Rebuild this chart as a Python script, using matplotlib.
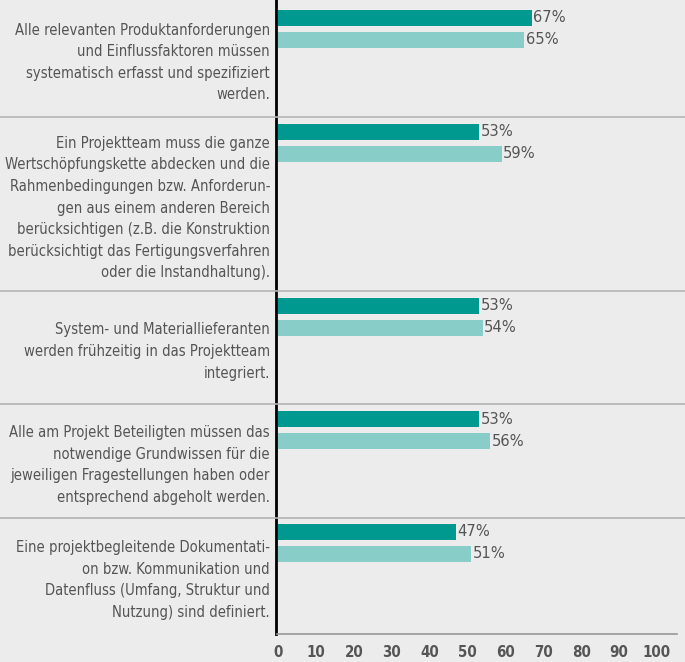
import matplotlib
matplotlib.use("Agg")
import matplotlib.pyplot as plt
from matplotlib.lines import Line2D
import matplotlib.transforms as mtransforms
from matplotlib import font_manager

categories = [
    "Alle relevanten Produktanforderungen\nund Einflussfaktoren müssen\nsystematisch erfasst und spezifiziert\nwerden.",
    "Ein Projektteam muss die ganze\nWertschöpfungskette abdecken und die\nRahmenbedingungen bzw. Anforderun-\ngen aus einem anderen Bereich\nberücksichtigen (z.B. die Konstruktion\nberücksichtigt das Fertigungsverfahren\noder die Instandhaltung).",
    "System- und Materiallieferanten\nwerden frühzeitig in das Projektteam\nintegriert.",
    "Alle am Projekt Beteiligten müssen das\nnotwendige Grundwissen für die\njeweiligen Fragestellungen haben oder\nentsprechend abgeholt werden.",
    "Eine projektbegleitende Dokumentati-\non bzw. Kommunikation und\nDatenfluss (Umfang, Struktur und\nNutzung) sind definiert.",
]
series_dark = [67, 53, 53, 53, 47]
series_light = [65, 59, 54, 56, 51]
xticks = [0, 10, 20, 30, 40, 50, 60, 70, 80, 90, 100]

# layout (pixel rows)
W, H = 685, 662
group_edges = [0, 117, 291, 404, 518, 634]
dark_top = [10, 124, 298, 411, 524]
bar_h = 16
gap = 6

fonts = font_manager.findSystemFonts()
def find_font(keys_any, must=(), exclude=()):
    for f in sorted(fonts):
        n = f.lower().replace('-', '').replace('_', '')
        if any(k in n for k in keys_any) and all(m in n for m in must) and not any(e in n for e in exclude):
            return f
    return None

cond = find_font(['dejavusanscondensed.ttf'])
if cond is None:
    cond = find_font(['narrow', 'condensed'], exclude=('bold', 'oblique', 'italic'))
cond_b = find_font(['dejavusanscondensedbold.ttf'])
if cond_b is None:
    cond_b = find_font(['narrow', 'condensed'], must=('bold',), exclude=('oblique', 'italic'))

def fprop(path, size, fallback_weight='normal'):
    if path:
        return font_manager.FontProperties(fname=path, size=size)
    return font_manager.FontProperties(family='DejaVu Sans', size=size * 0.9, weight=fallback_weight)

fp = fprop(cond, 10.6)
fp_val = fprop(cond, 11.8)
fp_tick = fprop(cond_b, 10.8, 'bold')

bg = '#ececec'
c_dark = '#009990'
c_light = '#88cdc8'
txt = '#555555'

fig = plt.figure(figsize=(W / 100, H / 100), dpi=100, facecolor=bg)
ax = fig.add_axes([278 / W, (H - 634) / H, (657 - 278) / W, 634 / H])
ax.set_facecolor(bg)
ax.set_xlim(0, 100)
ax.set_ylim(634, 0)

ydark = [t + bar_h / 2 for t in dark_top]
ylight = [t + bar_h + gap + bar_h / 2 for t in dark_top]
ax.barh(ydark, series_dark, height=bar_h, color=c_dark, zorder=3)
ax.barh(ylight, series_light, height=bar_h, color=c_light, zorder=3)

for y, v in zip(ydark, series_dark):
    ax.text(v + 0.4, y, f"{v}%", va='center', ha='left', fontproperties=fp_val, color=txt)
for y, v in zip(ylight, series_light):
    ax.text(v + 0.4, y, f"{v}%", va='center', ha='left', fontproperties=fp_val, color=txt)

# category labels
trans_lab = mtransforms.blended_transform_factory(fig.transFigure, ax.transData)
for i, lab in enumerate(categories):
    yc = (group_edges[i] + group_edges[i + 1]) / 2 + 4
    ax.text(270 / W, yc, lab, transform=trans_lab, ha='right', va='center',
            multialignment='right', fontproperties=fp, color=txt, linespacing=1.55)

# separators
for y in group_edges[1:-1]:
    fig.add_artist(Line2D([0, 1], [y, y], transform=trans_lab, color='#b4b4b4', lw=1.2))

# bottom line
fig.add_artist(Line2D([277 / W, 677 / W], [634, 634], transform=trans_lab, color='#999999', lw=1.2))

for s in ['top', 'right', 'bottom']:
    ax.spines[s].set_visible(False)
ax.spines['left'].set_linewidth(2)
ax.spines['left'].set_color('black')
ax.spines['left'].set_position(('data', -0.5))
ax.spines['left'].set_zorder(4)

ax.set_yticks([])
ax.set_xticks(xticks)
ax.set_xticklabels([str(t) for t in xticks], color=txt)
for t in ax.get_xticklabels():
    t.set_fontproperties(fp_tick)
ax.tick_params(axis='x', length=0, pad=8)

fig.savefig('out.png', dpi=100, facecolor=bg)
